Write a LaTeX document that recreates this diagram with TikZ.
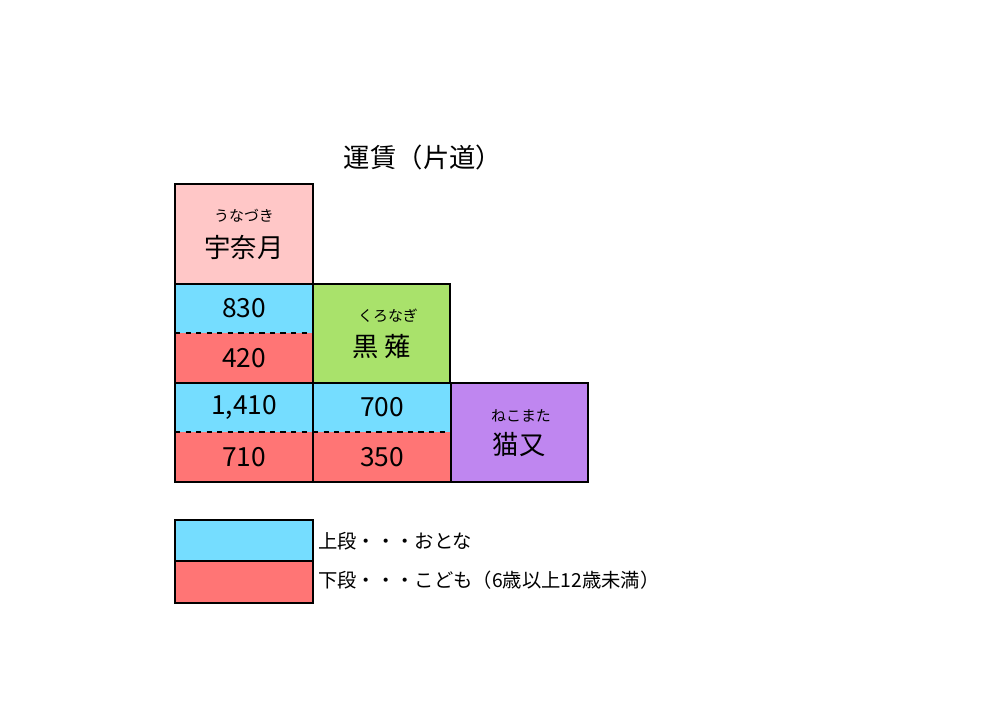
\documentclass[tikz,border=0pt]{standalone}
\usepackage{fontspec}
\setmainfont{Noto Sans CJK JP}
\begin{document}
\begin{tikzpicture}[x=0.02cm,y=-0.02cm,
  cellb/.style={draw=black,line width=1.7pt},
  half/.style={draw=none},
  split/.style={dashed,line width=0.6pt},
  num/.style={font=\fontsize{15}{17}\selectfont},
  big/.style={font=\fontsize{15}{17}\selectfont},
  ruby/.style={font=\fontsize{8.5}{10}\selectfont},
  leg/.style={font=\fontsize{11}{13}\selectfont,anchor=west,inner sep=1pt}]
\definecolor{pinkc}{HTML}{FFC7C7}
\definecolor{cyanc}{HTML}{75DDFF}
\definecolor{redc}{HTML}{FF7575}
\definecolor{greenc}{HTML}{A9E26B}
\definecolor{purplec}{HTML}{BF86F0}
\useasboundingbox (0,0) rectangle (981,709);
\node[font=\fontsize{15}{17}\selectfont] (title) at (423,157) {運賃（片道）};
% station cells
\filldraw[fill=pinkc,cellb] (175,184) rectangle (313,284);
\node[ruby] (r1) at (244,216) {うなづき};
\node[big] (s1) at (244,247) {宇奈月};
\filldraw[fill=greenc,cellb] (313,284) rectangle (450,383);
\node[ruby] (r2) at (388,316) {くろなぎ};
\node[big] (s2) at (382,347) {黒 薙};
\filldraw[fill=purplec,cellb] (450,383) rectangle (588,482);
\node[ruby] (r3) at (521,416) {ねこまた};
\node[big] (s3) at (519,445) {猫又};
% fare cells
\foreach \x/\y/\a/\c/\n in {175/284/830/420/a,175/383/{1,410}/710/b,313/383/700/350/c}{
  \fill[cyanc] (\x,\y) rectangle ++(138,49);
  \fill[redc] (\x,\y+49) rectangle ++(138,50);
  \draw[split] (\x,\y+49) -- ++(138,0);
  \draw[cellb] (\x,\y) rectangle ++(138,99);
  \node[num] (u\n) at (\x+69,\y+24) {\a};
  \node[num] (l\n) at (\x+69,\y+74) {\c};
}
% legend
\fill[cyanc] (175,520) rectangle (313,561);
\fill[redc] (175,561) rectangle (313,603);
\draw[line width=0.6pt] (175,561) -- (313,561);
\draw[cellb] (175,520) rectangle (313,603);
\node[leg] (l1) at (316,541) {上段・・・おとな};
\node[leg] (l2) at (316,580) {下段・・・こども（6歳以上12歳未満）};
\end{tikzpicture}
\end{document}
